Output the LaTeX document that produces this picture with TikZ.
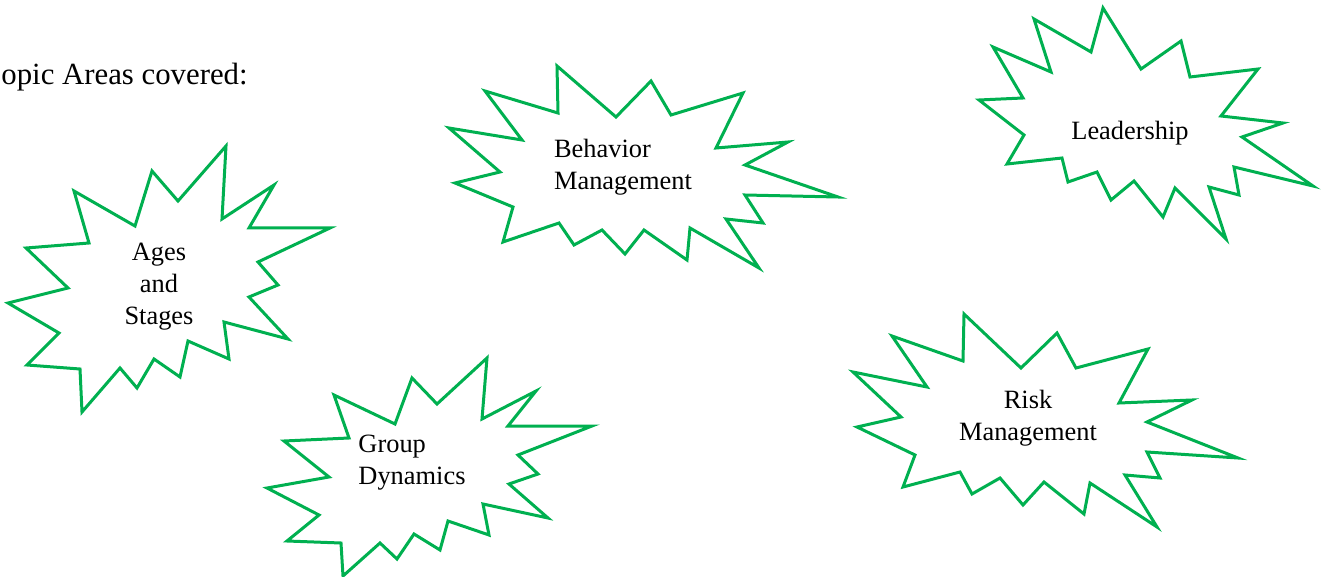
\documentclass[tikz,border=0pt]{standalone}
\usepackage{fontspec}
\setmainfont{Liberation Serif}
\definecolor{burstgreen}{RGB}{0,176,80}
\begin{document}
\begin{tikzpicture}[x=0.5pt,y=-0.5pt,
  burst/.style={draw=burstgreen,line width=1.5pt,fill=white},
  topic/.style={font=\fontsize{13.2}{16}\selectfont,inner sep=0pt}]
\useasboundingbox (0,0) rectangle (1322,577);
\node[anchor=base west,inner sep=0pt,font=\fontsize{15.4}{19}\selectfont] (title) at (1,85) {opic Areas covered:};
\draw[burst] (226,146) -- (222,219) -- (274,185) -- (249,228) -- (330,228) -- (258,262) -- (278,285) -- (249,297) -- (288,339) -- (224,322) -- (229,359) -- (188,341) -- (180,377) -- (154,359) -- (137,388) -- (120,368) -- (82,412) -- (80,369) -- (27,365) -- (59,333) -- (8,303) -- (68,288) -- (26,248) -- (89,243) -- (74,191) -- (135,226) -- (152,171) -- (178,201) -- cycle;
\node[topic,align=center] (ages) at (159,287) {Ages\\and\\Stages};
\draw[burst] (557,66) -- (616,117) -- (651,81) -- (671,115) -- (743,93) -- (716,148) -- (788,142) -- (745,165) -- (838,197) -- (745,195) -- (763,223) -- (726,219) -- (759,268) -- (690,228) -- (687,260) -- (644,230) -- (625,254) -- (602,230) -- (574,245) -- (559,223) -- (503,242) -- (513,207) -- (455,183) -- (500,172) -- (449,128) -- (522,140) -- (485,91) -- (558,113) -- cycle;
\node[topic,align=left] (behavior) at (623,167) {Behavior\\Management};
\draw[burst] (1103,8) -- (1141,69) -- (1181,41) -- (1190,77) -- (1258,69) -- (1221,116) -- (1283,123) -- (1242,137) -- (1313,186) -- (1234,167) -- (1239,195) -- (1209,187) -- (1226,239) -- (1175,188) -- (1163,217) -- (1134,181) -- (1111,200) -- (1097,172) -- (1068,182) -- (1062,158) -- (1007,164) -- (1024,135) -- (979,100) -- (1023,98) -- (993,47) -- (1051,72) -- (1034,19) -- (1091,52) -- cycle;
\node[topic] (leadership) at (1130,133) {Leadership};
\draw[burst] (487,358) -- (482,419) -- (536,391) -- (508,426) -- (592,426) -- (518,455) -- (538,474) -- (509,484) -- (548,518) -- (483,504) -- (489,535) -- (448,521) -- (440,550) -- (414,534) -- (397,559) -- (380,543) -- (343,576) -- (341,543) -- (287,541) -- (319,515) -- (267,488) -- (329,477) -- (284,441) -- (349,438) -- (334,395) -- (395,424) -- (412,378) -- (437,404) -- cycle;
\node[topic,align=left] (group) at (412,463) {Group\\Dynamics};
\draw[burst] (964,314) -- (1021,368) -- (1057,333) -- (1076,368) -- (1148,349) -- (1119,403) -- (1192,400) -- (1147,422) -- (1238,458) -- (1147,452) -- (1160,478) -- (1125,475) -- (1157,527) -- (1090,483) -- (1084,514) -- (1044,482) -- (1023,505) -- (1000,478) -- (972,494) -- (960,472) -- (903,487) -- (915,455) -- (857,427) -- (901,417) -- (853,372) -- (927,387) -- (892,336) -- (963,361) -- cycle;
\node[topic,align=center] (risk) at (1028,418) {Risk\\Management};
\end{tikzpicture}
\end{document}
